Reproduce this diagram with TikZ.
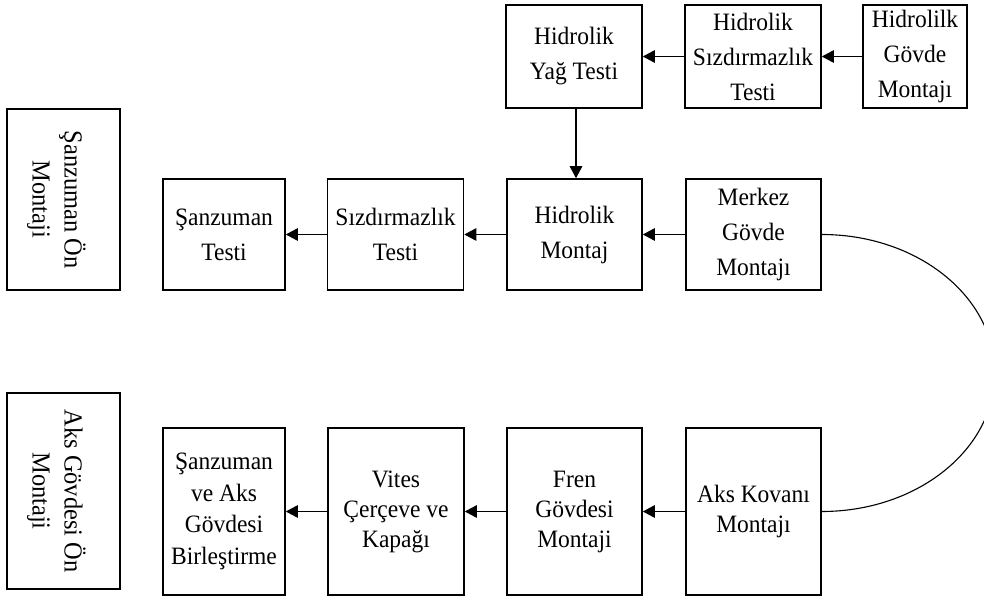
\documentclass[tikz,border=0pt]{standalone}
\usepackage{fontspec}
\setmainfont{Liberation Serif}[FakeStretch=0.94]
\usetikzlibrary{arrows.meta}
\begin{document}
\begin{tikzpicture}[x=1pt,y=-1pt,
  box/.style={draw, line width=1.6pt, rectangle, inner sep=0pt, align=center,
    font=\fontsize{25}{35}\selectfont},
  topbox/.style={box, minimum width=136, minimum height=103},
  midbox/.style={box, minimum width=136, minimum height=111},
  lowbox/.style={box, minimum width=136, minimum height=167,
    font=\fontsize{25}{30}\selectfont},
  sidebox/.style={draw, line width=1.6pt, rectangle, inner sep=0pt,
    minimum width=113},
  sidetext/.style={rotate=-90, inner sep=0pt, align=center,
    font=\fontsize{26}{32}\selectfont},
  flow/.style={line width=1.1pt, -{Triangle[length=12pt,width=12.5pt]}},
  link/.style={line width=1.1pt},
]
\useasboundingbox (0,0) rectangle (984,602);
\clip (0,0) rectangle (984,602);

% top row
\node[topbox] (yag) at (574,56.5) {Hidrolik\\Yağ Testi};
\node[topbox] (hst) at (753,56.5) {Hidrolik\\Sızdırmazlık\\Testi};
\node[topbox, minimum width=104] (hgm) at (915,56.5) {Hidrolilk\\Gövde\\Montajı};

% middle row
\node[midbox, minimum width=122] (st) at (224,234.5) {Şanzuman\\Testi};
\node[midbox] (sdt) at (395.5,234.5) {Sızdırmazlık\\Testi};
\node[midbox, minimum width=135] (hm) at (574.5,234.5) {Hidrolik\\Montaj};
\node[midbox, minimum width=135] (mgm) at (753.5,234.5) {Merkez\\Gövde\\Montajı};

% bottom row
\node[lowbox, minimum width=122, font=\fontsize{25}{31.5}\selectfont] (sab) at (224,511.5)
  {Şanzuman\\ve Aks\\Gövdesi\\Birleştirme};
\node[lowbox] (vck) at (396,511.5) {Vites\\Çerçeve ve\\Kapağı};
\node[lowbox, minimum width=135] (fgm) at (574.5,511.5) {Fren\\Gövdesi\\Montaji};
\node[lowbox, minimum width=135] (akm) at (753.5,511.5) {Aks Kovanı\\Montajı};

% side boxes with vertical titles
\node[sidebox, minimum height=181] (son) at (63.5,199.5) {};
\node[sidetext] (sontext) at ([xshift=-7pt]son.center) {Şanzuman Ön\\Montaji};
\node[sidebox, minimum height=196] (agm) at (63.5,491) {};
\node[sidetext] (agmtext) at ([xshift=-7pt]agm.center) {Aks Gövdesi Ön\\Montaji};

% flow arrows
\draw[flow] (hgm.west) -- (hst.east);
\draw[flow] (hst.west) -- (yag.east);
\draw[flow] ([xshift=2pt]yag.south) -- ([xshift=1.5pt]hm.north);
\draw[flow] (mgm.west) -- (hm.east);
\draw[flow] (hm.west) -- (sdt.east);
\draw[flow] (sdt.west) -- (st.east);
\draw[flow] (akm.west) -- (fgm.east);
\draw[flow] (fgm.west) -- (vck.east);
\draw[flow] (vck.west) -- (sab.east);

% return loop from the middle row to the bottom row
\draw[link] (mgm.east) arc[start angle=-90, end angle=90, x radius=173, y radius=138.5];
\end{tikzpicture}
\end{document}
